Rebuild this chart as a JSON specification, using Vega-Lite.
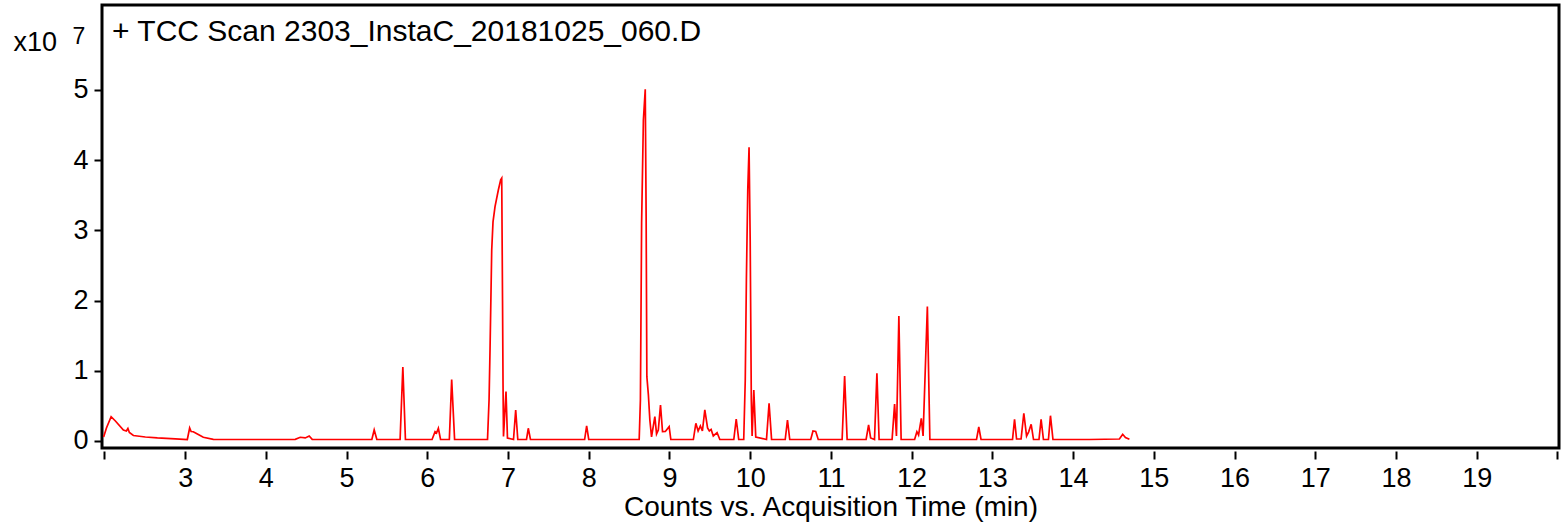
{
  "$schema": "https://vega.github.io/schema/vega-lite/v6.json",
  "width": 1457,
  "height": 443,
  "autosize": {"type": "none"},
  "padding": {"left": 102, "top": 5, "right": 8, "bottom": 75},
  "background": "white",
  "config": {
    "font": "Liberation Sans",
    "view": {"stroke": "black", "strokeWidth": 3}
  },
  "datasets": {
    "tcc": [
      {"t": 1.99, "v": 0.057}, {"t": 2.025, "v": 0.185}, {"t": 2.083, "v": 0.346}, {"t": 2.136, "v": 0.285},
      {"t": 2.235, "v": 0.157}, {"t": 2.272, "v": 0.142}, {"t": 2.291, "v": 0.178}, {"t": 2.309, "v": 0.121},
      {"t": 2.359, "v": 0.078}, {"t": 2.507, "v": 0.057}, {"t": 2.656, "v": 0.043}, {"t": 2.879, "v": 0.031},
      {"t": 3.027, "v": 0.021}, {"t": 3.056, "v": 0.185}, {"t": 3.074, "v": 0.135}, {"t": 3.101, "v": 0.132},
      {"t": 3.163, "v": 0.093}, {"t": 3.225, "v": 0.053}, {"t": 3.349, "v": 0.024}, {"t": 3.807, "v": 0.021},
      {"t": 4.364, "v": 0.024}, {"t": 4.426, "v": 0.053}, {"t": 4.488, "v": 0.043}, {"t": 4.537, "v": 0.071},
      {"t": 4.574, "v": 0.024}, {"t": 4.921, "v": 0.021}, {"t": 5.313, "v": 0.021}, {"t": 5.342, "v": 0.157},
      {"t": 5.375, "v": 0.021}, {"t": 5.663, "v": 0.021}, {"t": 5.697, "v": 1.054}, {"t": 5.729, "v": 0.021},
      {"t": 6.059, "v": 0.021}, {"t": 6.096, "v": 0.132}, {"t": 6.114, "v": 0.114}, {"t": 6.137, "v": 0.181},
      {"t": 6.164, "v": 0.021}, {"t": 6.273, "v": 0.021}, {"t": 6.302, "v": 0.876}, {"t": 6.338, "v": 0.021},
      {"t": 6.746, "v": 0.021}, {"t": 6.765, "v": 0.584}, {"t": 6.777, "v": 1.296}, {"t": 6.798, "v": 2.721},
      {"t": 6.814, "v": 3.12}, {"t": 6.839, "v": 3.338}, {"t": 6.88, "v": 3.575}, {"t": 6.909, "v": 3.718},
      {"t": 6.922, "v": 3.742}, {"t": 6.932, "v": 2.0}, {"t": 6.938, "v": 0.826}, {"t": 6.944, "v": 0.064},
      {"t": 6.975, "v": 0.705}, {"t": 6.993, "v": 0.043}, {"t": 7.068, "v": 0.021}, {"t": 7.095, "v": 0.442},
      {"t": 7.121, "v": 0.021}, {"t": 7.229, "v": 0.021}, {"t": 7.251, "v": 0.181}, {"t": 7.278, "v": 0.021},
      {"t": 7.949, "v": 0.021}, {"t": 7.974, "v": 0.214}, {"t": 8.0, "v": 0.021}, {"t": 8.625, "v": 0.021},
      {"t": 8.64, "v": 0.584}, {"t": 8.655, "v": 3.105}, {"t": 8.677, "v": 4.573}, {"t": 8.7, "v": 5.01},
      {"t": 8.711, "v": 3.205}, {"t": 8.72, "v": 0.916}, {"t": 8.739, "v": 0.655}, {"t": 8.757, "v": 0.299},
      {"t": 8.778, "v": 0.057}, {"t": 8.819, "v": 0.346}, {"t": 8.84, "v": 0.1}, {"t": 8.862, "v": 0.157},
      {"t": 8.889, "v": 0.513}, {"t": 8.914, "v": 0.132}, {"t": 8.949, "v": 0.135}, {"t": 8.996, "v": 0.204},
      {"t": 9.017, "v": 0.021}, {"t": 9.296, "v": 0.021}, {"t": 9.327, "v": 0.252}, {"t": 9.355, "v": 0.142},
      {"t": 9.383, "v": 0.214}, {"t": 9.408, "v": 0.142}, {"t": 9.438, "v": 0.442}, {"t": 9.472, "v": 0.185},
      {"t": 9.494, "v": 0.142}, {"t": 9.516, "v": 0.164}, {"t": 9.543, "v": 0.071}, {"t": 9.59, "v": 0.118},
      {"t": 9.624, "v": 0.021}, {"t": 9.797, "v": 0.021}, {"t": 9.827, "v": 0.313}, {"t": 9.858, "v": 0.021},
      {"t": 9.92, "v": 0.021}, {"t": 9.939, "v": 0.869}, {"t": 9.953, "v": 2.293}, {"t": 9.97, "v": 3.575},
      {"t": 9.986, "v": 4.184}, {"t": 10.0, "v": 2.863}, {"t": 10.014, "v": 0.584}, {"t": 10.024, "v": 0.071},
      {"t": 10.045, "v": 0.726}, {"t": 10.069, "v": 0.057}, {"t": 10.202, "v": 0.021}, {"t": 10.234, "v": 0.537},
      {"t": 10.265, "v": 0.021}, {"t": 10.434, "v": 0.021}, {"t": 10.462, "v": 0.299}, {"t": 10.49, "v": 0.021},
      {"t": 10.75, "v": 0.021}, {"t": 10.778, "v": 0.142}, {"t": 10.812, "v": 0.135}, {"t": 10.843, "v": 0.021},
      {"t": 11.139, "v": 0.021}, {"t": 11.17, "v": 0.926}, {"t": 11.201, "v": 0.021}, {"t": 11.436, "v": 0.021},
      {"t": 11.467, "v": 0.228}, {"t": 11.492, "v": 0.043}, {"t": 11.54, "v": 0.021}, {"t": 11.57, "v": 0.964},
      {"t": 11.597, "v": 0.021}, {"t": 11.758, "v": 0.021}, {"t": 11.789, "v": 0.527}, {"t": 11.812, "v": 0.071},
      {"t": 11.842, "v": 1.781}, {"t": 11.87, "v": 0.021}, {"t": 12.037, "v": 0.021}, {"t": 12.065, "v": 0.132},
      {"t": 12.086, "v": 0.085}, {"t": 12.12, "v": 0.323}, {"t": 12.142, "v": 0.071}, {"t": 12.195, "v": 1.916},
      {"t": 12.226, "v": 0.021}, {"t": 12.804, "v": 0.021}, {"t": 12.832, "v": 0.199}, {"t": 12.86, "v": 0.021},
      {"t": 13.25, "v": 0.021}, {"t": 13.275, "v": 0.309}, {"t": 13.3, "v": 0.028}, {"t": 13.356, "v": 0.028},
      {"t": 13.39, "v": 0.395}, {"t": 13.424, "v": 0.071}, {"t": 13.45, "v": 0.13}, {"t": 13.481, "v": 0.238},
      {"t": 13.51, "v": 0.021}, {"t": 13.578, "v": 0.021}, {"t": 13.604, "v": 0.309}, {"t": 13.633, "v": 0.021},
      {"t": 13.695, "v": 0.021}, {"t": 13.72, "v": 0.36}, {"t": 13.751, "v": 0.021}, {"t": 14.203, "v": 0.021},
      {"t": 14.574, "v": 0.028}, {"t": 14.615, "v": 0.095}, {"t": 14.649, "v": 0.05}, {"t": 14.698, "v": 0.024}
    ],
    "label": [{"label": "+ TCC Scan 2303_InstaC_20181025_060.D"}]
  },
  "resolve": {"axis": {"y": "independent"}},
  "layer": [
    {
      "data": {"name": "tcc"},
      "mark": {"type": "line", "color": "#ff0000", "strokeWidth": 1.7, "interpolate": "linear"},
      "encoding": {
        "x": {
          "field": "t",
          "type": "quantitative",
          "scale": {"domain": [1.97, 20.02], "nice": false, "zero": false},
          "axis": {
            "title": "Counts vs. Acquisition Time (min)",
            "values": [2, 3, 4, 5, 6, 7, 8, 9, 10, 11, 12, 13, 14, 15, 16, 17, 18, 19, 20],
            "format": "d",
            "labelExpr": "datum.value == 2 || datum.value == 20 ? '' : datum.label",
            "grid": false,
            "domain": false,
            "offset": 3,
            "tickSize": 8,
            "tickWidth": 2,
            "tickColor": "black",
            "labelFontSize": 27,
            "labelColor": "black",
            "labelPadding": 6,
            "titleFontSize": 28,
            "titleFontWeight": "normal",
            "titleColor": "black",
            "titlePadding": 2
          }
        },
        "y": {
          "field": "v",
          "type": "quantitative",
          "scale": {"domain": [-0.1, 6.21], "nice": false, "zero": false},
          "axis": {
            "orient": "left",
            "title": "x10",
            "titleAngle": 0,
            "titleX": -89,
            "titleY": 45,
            "titleAlign": "left",
            "titleBaseline": "alphabetic",
            "titleFontSize": 27,
            "titleFontWeight": "normal",
            "titleColor": "black",
            "values": [0, 1, 2, 3, 4, 5],
            "format": "d",
            "grid": false,
            "domain": false,
            "tickSize": 8,
            "tickWidth": 2,
            "tickColor": "black",
            "labelFontSize": 27,
            "labelColor": "black",
            "labelPadding": 6
          }
        }
      }
    },
    {
      "data": {"name": "tcc"},
      "mark": {"type": "line", "strokeOpacity": 0},
      "encoding": {
        "x": {"field": "t", "type": "quantitative"},
        "y": {
          "field": "v",
          "type": "quantitative",
          "axis": {
            "orient": "left",
            "title": "7",
            "titleAngle": 0,
            "titleX": -30,
            "titleY": 38,
            "titleAlign": "left",
            "titleBaseline": "alphabetic",
            "titleFontSize": 23,
            "titleFontWeight": "normal",
            "titleColor": "black",
            "labels": false,
            "ticks": false,
            "domain": false,
            "grid": false
          }
        }
      }
    },
    {
      "data": {"name": "label"},
      "mark": {"type": "text", "align": "left", "baseline": "alphabetic", "fontSize": 30, "color": "black", "font": "Liberation Sans"},
      "encoding": {
        "x": {"datum": 2.094, "type": "quantitative"},
        "y": {"datum": 5.697, "type": "quantitative", "axis": null},
        "text": {"field": "label", "type": "nominal"}
      }
    }
  ]
}
